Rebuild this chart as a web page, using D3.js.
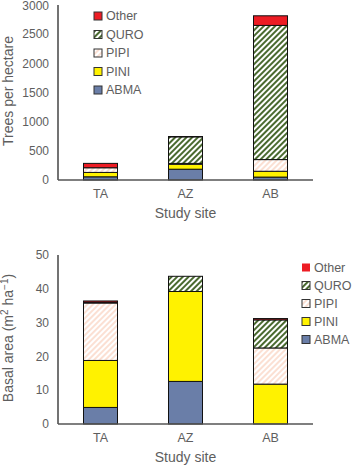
<!DOCTYPE html>
<html>
<head>
<meta charset="utf-8">
<script src="https://cdn.jsdelivr.net/npm/d3@7"></script>
<style>
  body { margin: 0; background: #fff; }
  text { font-family: "Liberation Sans", Arial, sans-serif; fill: #5e5e5e; }
</style>
</head>
<body>
<div id="chart"></div>
<script>
// Data
const sites = ["TA", "AZ", "AB"]
const species = ["ABMA", "PINI", "PIPI", "QURO", "Other"]
const legendOrder = ["Other", "QURO", "PIPI", "PINI", "ABMA"]

// trees per hectare, per site (ABMA, PINI, PIPI, QURO, Other)
const densityTA = [55, 75, 80, 0, 75]
const densityAZ = [185, 85, 15, 455, 5]
const densityAB = [50, 100, 200, 2300, 165]
const densityTicks = [0, 500, 1000, 1500, 2000, 2500, 3000]

// basal area m2/ha, per site
const basalTA = [4.9, 13.9, 17.0, 0.2, 0.4]
const basalAZ = [12.6, 26.6, 0, 4.5, 0]
const basalAB = [0, 11.8, 10.7, 8.3, 0.4]
const basalTicks = [0, 10, 20, 30, 40, 50]

const W = 353, H = 466

const svg = d3.select("#chart")
    .append("svg")
    .attr("width", W)
    .attr("height", H)

// Patterns
const defs = svg.append("defs")
function hatch(id, color, width) {
    const p = defs.append("pattern")
        .attr("id", id)
        .attr("patternUnits", "userSpaceOnUse")
        .attr("width", 4)
        .attr("height", 4)
        .attr("patternTransform", "rotate(45)")
    p.append("rect").attr("width", 4).attr("height", 4).attr("fill", "#fff")
    p.append("line")
        .attr("x1", 1).attr("y1", 0).attr("x2", 1).attr("y2", 4)
        .attr("stroke", color).attr("stroke-width", width)
}
hatch("quro", "#4a6a30", 2)
hatch("pipi", "#fbd9c9", 1.6)

const fills = {
    ABMA: "#6a7ea8",
    PINI: "#fff200",
    PIPI: "url(#pipi)",
    QURO: "url(#quro)",
    Other: "#ed1c24"
}

function toRows(arrs) {
    return sites.map((s, i) => {
        const row = {site: s}
        species.forEach((sp, j) => row[sp] = arrs[i][j])
        return row
    })
}

function drawChart(opts) {
    const g = svg.append("g")
    const x = d3.scaleBand()
        .domain(sites)
        .range([58, 313])
        .paddingInner(0.6)
        .paddingOuter(0.3)
    const y = d3.scaleLinear()
        .domain(opts.domain)
        .range([opts.bottom, opts.top])

    const stack = d3.stack().keys(species)(toRows(opts.data))

    g.selectAll("g.layer")
        .data(stack)
        .enter()
        .append("g")
        .attr("class", "layer")
        .attr("fill", d => fills[d.key])
        .selectAll("rect")
        .data(d => d)
        .enter()
        .append("rect")
        .filter(d => d[1] - d[0] > 0)
        .attr("x", d => x(d.data.site))
        .attr("width", x.bandwidth())
        .attr("y", d => y(d[1]))
        .attr("height", d => y(d[0]) - y(d[1]))
        .attr("stroke", "#111")
        .attr("stroke-width", 1)

    // axis lines
    g.append("line")
        .attr("x1", 58).attr("x2", 58)
        .attr("y1", opts.top).attr("y2", opts.bottom)
        .attr("stroke", "#444").attr("stroke-width", 1.5)
    g.append("line")
        .attr("x1", 58).attr("x2", 313)
        .attr("y1", opts.bottom).attr("y2", opts.bottom)
        .attr("stroke", "#555").attr("stroke-width", 1.5)

    g.selectAll("text.ytick")
        .data(opts.ticks)
        .enter()
        .append("text")
        .attr("class", "ytick")
        .attr("x", 49)
        .attr("y", d => Math.max(y(d), 6))
        .attr("dy", "0.35em")
        .attr("text-anchor", "end")
        .style("font-size", "12px")
        .text(d => d)

    g.selectAll("text.xtick")
        .data(sites)
        .enter()
        .append("text")
        .attr("class", "xtick")
        .attr("x", d => x(d) + x.bandwidth() / 2)
        .attr("y", opts.bottom + 18)
        .attr("text-anchor", "middle")
        .style("font-size", "12.5px")
        .text(d => d)

    g.append("text")
        .attr("x", 185.5)
        .attr("y", opts.bottom + 38)
        .attr("text-anchor", "middle")
        .style("font-size", "14px")
        .text("Study site")

    const yt = g.append("text")
        .attr("transform", `translate(13, ${opts.titleY}) rotate(-90)`)
        .attr("text-anchor", "middle")
        .style("font-size", "14px")
    opts.title(yt)

    // legend
    const lg = g.append("g")
    legendOrder.forEach((k, i) => {
        const ly = opts.legendY + i * opts.legendStep
        lg.append("rect")
            .attr("x", opts.legendX)
            .attr("y", ly - 4)
            .attr("width", 8)
            .attr("height", 8)
            .attr("fill", fills[k])
            .attr("stroke", k === "Other" && opts.noOtherBorder ? "none" : "#333")
            .attr("stroke-width", 1)
        lg.append("text")
            .attr("x", opts.legendX + 12)
            .attr("y", ly)
            .attr("dy", "0.35em")
            .style("font-size", "12.5px")
            .text(k)
    })
}

drawChart({
    data: [densityTA, densityAZ, densityAB],
    domain: [0, 3000],
    ticks: densityTicks,
    top: 5,
    bottom: 180,
    titleY: 91,
    title: t => t.text("Trees per hectare"),
    legendX: 94,
    legendY: 16,
    legendStep: 18.5
})

drawChart({
    data: [basalTA, basalAZ, basalAB],
    domain: [0, 50],
    ticks: basalTicks,
    top: 255,
    bottom: 424,
    titleY: 338,
    title: t => {
        t.append("tspan").text("Basal area (m")
        t.append("tspan").attr("baseline-shift", "super").style("font-size", "10px").text("2")
        t.append("tspan").text(" ha")
        t.append("tspan").attr("baseline-shift", "super").style("font-size", "10px").text("\u22121")
        t.append("tspan").text(")")
    },
    legendX: 302,
    legendY: 267.5,
    legendStep: 18,
    noOtherBorder: true
})
</script>
</body>
</html>
